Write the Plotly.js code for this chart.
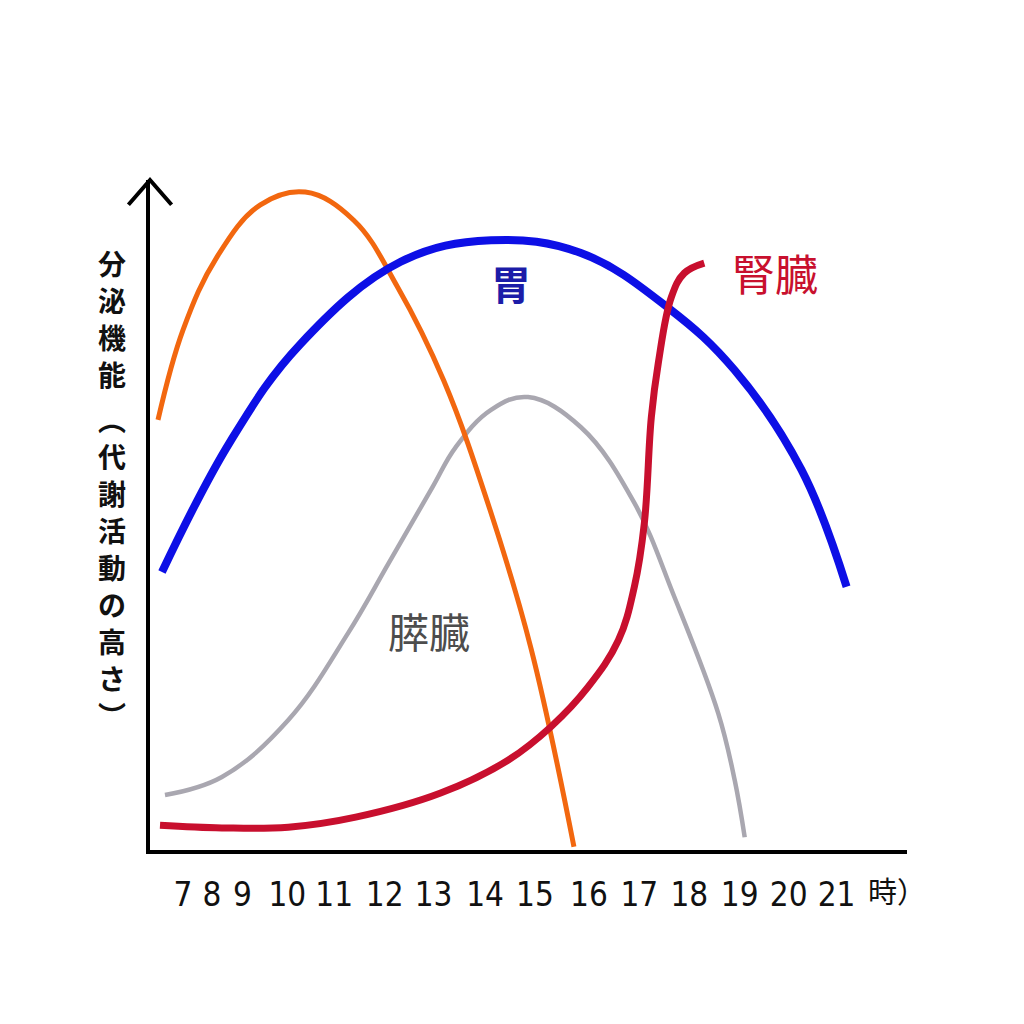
<!DOCTYPE html>
<html><head><meta charset="utf-8">
<script src="https://cdn.plot.ly/plotly-3.0.1.min.js"></script>
<style>html,body{margin:0;padding:0;background:#fff}#chart{width:1024px;height:1024px}</style>
</head><body><div id="chart"></div>
<script>
// Hours (x) and relative secretion level (y, 0-100)
const liverX = [7.41,7.91,8.59,9.46,10.36,11.33,12.21,13.13,14.08,14.88,15.74];
const liverY = [64.2,77.6,88.5,96.3,98.2,94.0,84.0,70.1,50.3,30.1,0.5];

const stomachX = [7.49,8.86,10.26,12.27,14.08,15.88,17.63,18.96,20.30,21.20];
const stomachY = [41.5,61.0,75.5,87.8,91.0,89.1,80.9,71.6,56.7,39.3];

const pancreasX = [7.55,8.69,10.02,11.22,12.03,12.91,13.37,14.08,14.82,15.88,16.95,17.75,18.63,18.96,19.16];
const pancreasY = [8.2,10.9,19.4,32.4,42.8,54.2,60.1,65.7,67.6,63.1,51.8,37.8,20.4,10.4,1.9];

const kidneyX = [7.45,8.69,10.02,11.37,13.07,14.42,15.28,16.02,16.63,16.95,17.15,17.29,17.43,17.69,17.95,18.35];
const kidneyY = [3.7,3.3,3.4,4.9,8.5,13.4,18.4,24.3,31.3,39.3,48.8,64.6,72.7,82.5,86.1,87.6];

const tickLabels = ['7','8','9','10','11','12','13','14','15','16','17','18','19','20','21'];
const tickPos = [7.91,8.49,9.10,10.0,10.94,11.95,12.93,13.96,14.96,16.04,17.05,18.05,19.06,20.04,21.0];

const yTitleChars = ['分','泌','機','能','︵','代','謝','活','動','の','高','さ','︶'];

function curve(x, y, color, width){
  return {x:x, y:y, type:'scatter', mode:'lines', hoverinfo:'skip',
    line:{color:color, width:width, shape:'spline', smoothing:1.1}};
}

const traces = [
  curve(pancreasX, pancreasY, '#a9a7b0', 4.5),
  curve(liverX, liverY, '#f2670f', 5),
  curve(stomachX, stomachY, '#0d0fe6', 8),
  curve(kidneyX, kidneyY, '#c80f2e', 7)
];

const cjk = '"Noto Sans CJK JP", "Noto Sans", sans-serif';
const narrow = '"Liberation Sans Narrow", "DejaVu Sans Condensed", "Noto Sans", sans-serif';

// vertical axis title: one annotation per character, stacked top to bottom
const plotTop = 180, plotBottom = 850, plotH = plotBottom - plotTop;
const titleAnns = yTitleChars.map(function(ch, i){
  const py = 263 + i * 37 + (i >= 4 ? 8 : 0);
  return {x:-0.05, y:(plotBottom - py) / plotH, xref:'paper', yref:'paper',
    xanchor:'center', yanchor:'middle', text:ch, showarrow:false, borderpad:0,
    font:{family:cjk, size:28, color:'#111', weight:'bold'}};
});

const layout = {
  width:1024, height:1024,
  margin:{l:150, r:117, t:plotTop, b:1024 - plotBottom},
  paper_bgcolor:'#ffffff', plot_bgcolor:'#ffffff',
  showlegend:false,
  xaxis:{range:[7.25,22.41], showgrid:false, zeroline:false, showline:true,
    linecolor:'#000', linewidth:4, tickmode:'array', tickvals:tickPos, ticktext:tickLabels,
    ticks:'', tickfont:{family:narrow, size:33, color:'#111'},
    ticklabelstandoff:12, fixedrange:true},
  yaxis:{range:[0,100], showgrid:false, zeroline:false, showline:true,
    linecolor:'#000', linewidth:4, showticklabels:false, ticks:'', fixedrange:true},
  shapes:[
    {type:'path', xref:'paper', yref:'paper',
     path:'M -0.0285 0.963 L 0 1.0 L 0.0285 0.963',
     line:{color:'#000', width:4}}
  ],
  annotations:[
    {x:12.23, y:100.3, xref:'x', yref:'y', text:'肝臓', showarrow:false,
     font:{family:cjk, size:42, color:'#e8711c'}},
    {x:14.48, y:84.6, xref:'x', yref:'y', text:'胃', showarrow:false,
     font:{family:cjk, size:40, color:'#1c1ca8', weight:'bold'}},
    {x:19.76, y:86.3, xref:'x', yref:'y', text:'腎臓', showarrow:false,
     font:{family:cjk, size:43, color:'#c8102e'}},
    {x:12.83, y:32.8, xref:'x', yref:'y', text:'膵臓', showarrow:false,
     font:{family:cjk, size:41, color:'#4d4d4d'}},
    {x:22.2, y:0, xref:'x', yref:'paper', yshift:-40, yanchor:'middle', text:'時）', showarrow:false,
     font:{family:cjk, size:29, color:'#111'}}
  ].concat(titleAnns)
};

Plotly.newPlot('chart', traces, layout, {staticPlot:true, displayModeBar:false});
</script>
</body></html>
